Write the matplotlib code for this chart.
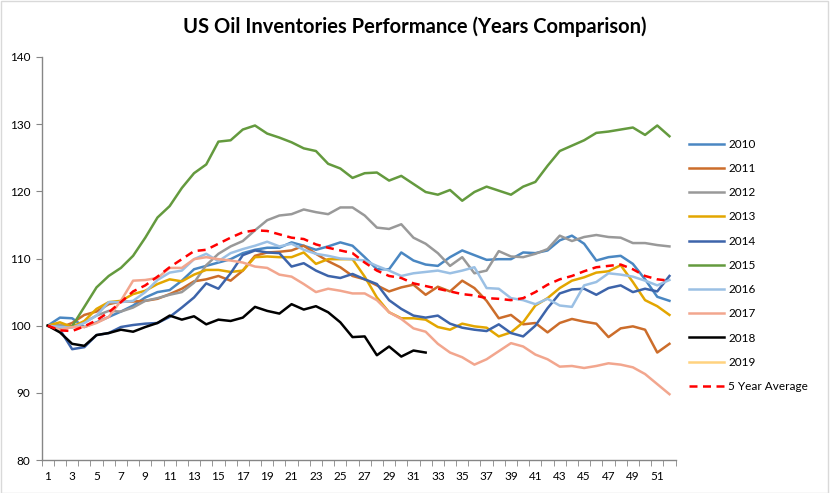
import numpy as np
import matplotlib
matplotlib.use('Agg')
import matplotlib.pyplot as plt
from matplotlib.patches import Rectangle

plt.rcParams['font.family'] = ['Lato', 'DejaVu Sans']

WEEKS = list(range(1, 53))

Y2010 = [100, 101.2, 101.1, 99.8, 100.5, 101.3, 102.1, 103.0, 104.2, 105.0, 105.3, 106.7, 108.4, 108.9, 109.4, 109.9,
         110.8, 111.3, 111.6, 111.6, 112.4, 111.9, 111.3, 111.8, 112.4, 111.9, 110.2, 108.4, 108.4, 110.9, 109.7, 109.1,
         108.9, 110.2, 111.2, 110.5, 109.8, 109.9, 109.9, 110.9, 110.8, 111.2, 112.7, 113.4, 112.2, 109.7, 110.2, 110.4,
         109.2, 106.9, 104.3, 103.7]
Y2011 = [100, 99.7, 100.4, 101.6, 102.1, 103.2, 103.6, 103.6, 103.7, 104.0, 104.7, 105.5, 106.6, 106.9, 107.4, 106.7,
         108.2, 110.4, 110.9, 111.0, 111.2, 111.9, 110.7, 109.6, 108.7, 107.4, 106.9, 106.0, 105.1, 105.7, 106.1, 104.6,
         105.8, 105.1, 106.7, 105.6, 103.7, 101.1, 101.6, 100.2, 100.4, 99.0, 100.4, 101.0, 100.6, 100.3, 98.3, 99.6,
         99.9, 99.4, 96.0, 97.3]
Y2012 = [100, 100.1, 99.9, 100.5, 101.5, 102.2, 102.1, 102.7, 103.7, 104.1, 104.6, 105.0, 106.4, 109.0, 110.7, 111.8,
         112.6, 114.2, 115.7, 116.4, 116.6, 117.3, 116.9, 116.6, 117.6, 117.6, 116.4, 114.6, 114.4, 115.1, 113.1, 112.2,
         110.8, 108.9, 110.2, 107.8, 108.2, 111.1, 110.3, 110.2, 110.7, 111.4, 113.4, 112.6, 113.2, 113.5, 113.2, 113.1,
         112.3, 112.3, 112.0, 111.8]
Y2013 = [100, 100.5, 99.8, 100.7, 102.5, 103.5, 103.7, 104.7, 105.2, 106.2, 106.9, 106.6, 107.6, 108.3, 108.3, 108.0,
         108.2, 110.2, 110.3, 110.2, 110.2, 110.9, 109.2, 109.9, 109.9, 109.9, 107.3, 104.2, 102.0, 101.1, 101.1, 100.9,
         99.8, 99.4, 100.3, 99.9, 99.7, 98.4, 99.0, 100.5, 103.0, 104.1, 105.6, 106.7, 107.2, 107.9, 108.1, 109.0,
         106.5, 103.8, 102.9, 101.6]
Y2014 = [100, 99.4, 96.5, 96.8, 98.6, 98.9, 99.8, 100.1, 100.3, 100.4, 101.3, 102.7, 104.2, 106.3, 105.5, 107.8,
         110.5, 111.2, 110.9, 110.8, 108.8, 109.3, 108.2, 107.4, 107.1, 107.7, 106.9, 106.2, 103.8, 102.5, 101.5, 101.2,
         101.5, 100.3, 99.7, 99.4, 99.2, 100.2, 98.9, 98.4, 100.0, 102.6, 104.8, 105.4, 105.5, 104.6, 105.6, 106.0,
         105.0, 105.5, 105.1, 107.4]
Y2015 = [100, 99.4, 99.9, 102.8, 105.7, 107.4, 108.6, 110.4, 113.1, 116.1, 117.8, 120.5, 122.7, 124.0, 127.4, 127.6,
         129.2, 129.8, 128.6, 128.0, 127.3, 126.4, 126.0, 124.1, 123.4, 122.0, 122.7, 122.8, 121.6, 122.3, 121.1, 119.9,
         119.5, 120.2, 118.6, 119.9, 120.7, 120.1, 119.5, 120.7, 121.4, 123.8, 126.0, 126.8, 127.6, 128.7, 128.9, 129.2,
         129.5, 128.4, 129.8, 128.2]
Y2016 = [100, 99.8, 99.7, 100.4, 101.5, 103.5, 103.5, 103.7, 105.0, 106.8, 107.9, 108.2, 109.9, 110.7, 109.6, 110.8,
         111.4, 111.9, 112.5, 111.8, 112.2, 111.3, 110.7, 110.4, 110.0, 109.9, 109.7, 108.9, 108.2, 107.4, 107.8, 108.0,
         108.2, 107.8, 108.2, 108.7, 105.6, 105.5, 104.1, 103.8, 103.2, 104.0, 103.0, 102.8, 106.0, 106.5, 107.8, 107.6,
         107.3, 106.7, 106.0, 106.8]
Y2017 = [100, 99.4, 99.8, 99.8, 100.4, 101.3, 103.7, 106.7, 106.8, 107.1, 108.6, 108.6, 109.9, 110.2, 109.9, 109.7,
         109.4, 108.8, 108.6, 107.6, 107.3, 106.2, 105.0, 105.5, 105.2, 104.8, 104.8, 103.8, 102.0, 101.0, 99.6, 99.1,
         97.3, 96.0, 95.3, 94.2, 95.0, 96.2, 97.4, 96.9, 95.7, 95.0, 93.9, 94.0, 93.7, 94.0, 94.4, 94.2,
         93.8, 92.8, 91.3, 89.8]
Y2018 = [100, 99.0, 97.3, 97.0, 98.6, 98.9, 99.4, 99.1, 99.8, 100.4, 101.5, 100.9, 101.4, 100.2, 100.9, 100.7,
         101.2, 102.8, 102.2, 101.8, 103.2, 102.4, 102.9, 102.0, 100.5, 98.3, 98.4, 95.6, 96.9, 95.4, 96.3, 96.0]
Y2019 = [100]
AVG5 = [100, 99.3, 99.2, 99.9, 100.8, 102.0, 103.5, 105.1, 106.0, 107.3, 108.7, 109.9, 111.1, 111.3, 112.2, 113.1,
        113.9, 114.2, 114.1, 113.6, 113.1, 112.9, 112.1, 111.6, 111.2, 110.8, 109.4, 108.2, 107.4, 107.1, 106.3, 105.9,
        105.5, 105.1, 104.7, 104.5, 104.1, 104.0, 103.8, 104.1, 105.0, 106.1, 106.9, 107.4, 108.1, 108.7, 108.9, 109.1,
        108.4, 107.4, 106.9, 106.7]

SERIES = [('2010', Y2010, '#4A87C2'), ('2011', Y2011, '#CC6D2B'), ('2012', Y2012, '#999999'),
          ('2013', Y2013, '#E3A600'), ('2014', Y2014, '#3D64AA'), ('2015', Y2015, '#649A3E'),
          ('2016', Y2016, '#9BC0E4'), ('2017', Y2017, '#F2A68E'), ('2018', Y2018, '#000000'),
          ('2019', Y2019, '#FFD27F')]

fig = plt.figure(figsize=(8.3, 4.93), dpi=100)
ax = fig.add_axes([0.0502, 0.0669, 0.7637, 0.8175])

for label, vals, colour in SERIES:
    ax.plot(WEEKS[:len(vals)], vals, color=colour, lw=1.8, label=label, solid_joinstyle='round')
ax.plot(WEEKS, AVG5, color='#FF0000', lw=1.8, ls=(0, (3.2, 2.2)), label='5 Year Average')

ax.set_xlim(0.5, 52.5)
ax.set_ylim(80, 140)
ax.set_yticks(range(80, 141, 10))
ax.set_xticks(WEEKS[::2])
ax.set_xticks(np.arange(0.5, 53, 1), minor=True)
ax.tick_params(axis='x', which='major', length=0, labelsize=8.5, pad=8)
ax.tick_params(axis='x', which='minor', length=4, color='#868686', direction='out')
ax.tick_params(axis='y', length=4, color='#868686', labelsize=8.5, pad=4)
for side in ['top', 'right']:
    ax.spines[side].set_visible(False)
for side in ['left', 'bottom']:
    ax.spines[side].set_color('#868686')
    ax.spines[side].set_linewidth(1.0)

fig.text(0.5, 0.945, 'US Oil Inventories Performance (Years Comparison)', ha='center', va='center',
         fontsize=14.5, fontweight='bold')

fig.legend(loc='upper left', bbox_to_anchor=(0.825, 0.728), frameon=False, fontsize=8.5,
           handlelength=2.9, handletextpad=0.4, labelspacing=1.12, borderaxespad=0)

fig.patches.append(Rectangle((0.001, 0.001), 0.997, 0.997, transform=fig.transFigure, fill=False,
                             edgecolor='#D9D9D9', lw=1))

fig.savefig('out.png', dpi=100)
